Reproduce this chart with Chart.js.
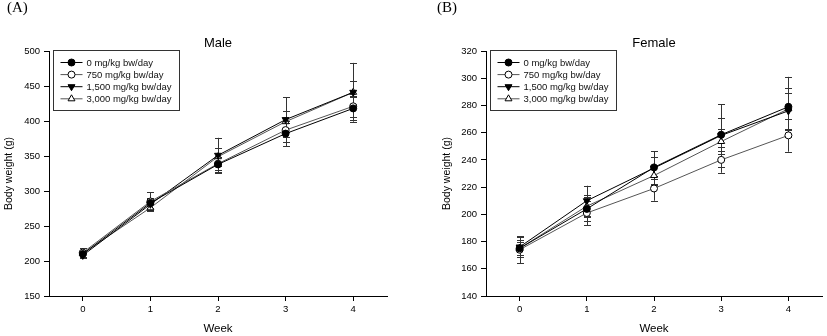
<!DOCTYPE html>
<html>
<head>
<meta charset="utf-8">
<script src="https://cdn.jsdelivr.net/npm/chart.js@4.4.1/dist/chart.umd.min.js"></script>
<style>
    html, body { margin: 0; padding: 0; background: #fff; }
    #wrap { position: relative; width: 827px; height: 336px; overflow: hidden; }
    .panel { position: absolute; top: 0; height: 336px; }
    #panelA { left: 0; width: 410px; }
    #panelB { left: 410px; width: 417px; }
    .tag {
        position: absolute; top: -1px;
        font: 15px "Times New Roman", "Liberation Serif", serif;
        color: #000; line-height: 16px;
    }
</style>
</head>
<body>
<div id="wrap">
    <div class="panel" id="panelA"><canvas id="maleChart" width="410" height="336"></canvas></div>
    <div class="panel" id="panelB"><canvas id="femaleChart" width="417" height="336"></canvas></div>
    <div class="tag" style="left:7px">(A)</div>
    <div class="tag" style="left:437px">(B)</div>
</div>

<script>
/**
 * Body weight curves, male and female groups
 */

const weeks = [0, 1, 2, 3, 4];
const doseLabels = ['0 mg/kg bw/day', '750 mg/kg bw/day', '1,500 mg/kg bw/day', '3,000 mg/kg bw/day'];

// male means / SD (g)
const male0 = [210, 283, 338, 382, 418];
const male750 = [212, 285, 339, 387, 421];
const male1500 = [208, 281, 351, 402, 441];
const male3000 = [211, 276, 349, 399, 441];
const maleSd0 = [5, 7, 11, 18, 17];
const maleSd750 = [6, 13, 9, 10, 15];
const maleSd1500 = [4, 8, 25, 32, 42];
const maleSd3000 = [5, 5, 13, 15, 16];

// female means / SD (g)
const female0 = [175, 204, 234.5, 258.5, 279];
const female750 = [174, 201, 219, 240, 258];
const female1500 = [176, 210, 234, 258, 276];
const female3000 = [175, 206, 228.5, 253.5, 277.5];
const femaleSd0 = [6, 9, 12, 12, 22];
const femaleSd750 = [10, 9, 9, 9.5, 12];
const femaleSd1500 = [7, 11, 8, 23, 13];
const femaleSd3000 = [5, 8, 7, 9, 15.5];

const maleTicks = [150, 200, 250, 300, 350, 400, 450, 500];
const femaleTicks = [140, 160, 180, 200, 220, 240, 260, 280, 300, 320];

const FONT = 'Arial, "Liberation Sans", sans-serif';

// marker / line look for each dose group
const groupStyles = [
    { line: '#000', fill: '#000', pointStyle: 'circle', radius: 3.5, rotation: 0 },
    { line: '#555', fill: '#fff', pointStyle: 'circle', radius: 3.5, rotation: 0 },
    { line: '#000', fill: '#000', pointStyle: 'triangle', radius: 4, rotation: 180 },
    { line: '#555', fill: '#fff', pointStyle: 'triangle', radius: 4, rotation: 0 }
];

function buildDatasets(means, sds) {
    return means.map((vals, g) => {
        const s = groupStyles[g];
        return {
            label: doseLabels[g],
            data: weeks.map((w, i) => ({ x: w, y: vals[i] })),
            errors: sds[g],
            borderColor: s.line,
            borderWidth: 1,
            pointStyle: s.pointStyle,
            pointRotation: s.rotation,
            pointRadius: s.radius,
            pointBackgroundColor: s.fill,
            pointBorderColor: '#000',
            pointBorderWidth: 1,
            tension: 0,
            fill: false
        };
    });
}

// vertical error bars with caps, drawn under the markers
const errorBarPlugin = {
    id: 'errorBars',
    beforeDatasetsDraw(chart) {
        const ctx = chart.ctx;
        const xs = chart.scales.x;
        const ys = chart.scales.y;
        ctx.save();
        ctx.strokeStyle = '#333';
        ctx.lineWidth = 1;
        chart.data.datasets.forEach(ds => {
            ds.data.forEach((p, i) => {
                const sd = ds.errors[i];
                const x = Math.round(xs.getPixelForValue(p.x)) + 0.5;
                const top = ys.getPixelForValue(p.y + sd);
                const bot = ys.getPixelForValue(p.y - sd);
                ctx.beginPath();
                ctx.moveTo(x, top);
                ctx.lineTo(x, bot);
                ctx.moveTo(x - 3.5, Math.round(top) + 0.5);
                ctx.lineTo(x + 3.5, Math.round(top) + 0.5);
                ctx.moveTo(x - 3.5, Math.round(bot) + 0.5);
                ctx.lineTo(x + 3.5, Math.round(bot) + 0.5);
                ctx.stroke();
            });
        });
        ctx.restore();
    }
};

// plot title above the area and boxed legend in its upper left corner
const panelDecorPlugin = {
    id: 'panelDecor',
    afterDraw(chart, args, opts) {
        const ctx = chart.ctx;
        const area = chart.chartArea;
        ctx.save();

        ctx.fillStyle = '#000';
        ctx.font = '13px ' + FONT;
        ctx.textAlign = 'center';
        ctx.textBaseline = 'middle';
        ctx.fillText(opts.title, (area.left + area.right) / 2, 43);

        const bx = Math.round(area.left + opts.boxOffset) + 0.5;
        const by = Math.round(area.top) - 0.5;
        const bw = 126, bh = 60;
        ctx.strokeStyle = '#333';
        ctx.lineWidth = 1;
        ctx.strokeRect(bx, by, bw, bh);

        ctx.font = '9.5px ' + FONT;
        ctx.textAlign = 'left';
        chart.data.datasets.forEach((ds, i) => {
            const y = by + 12 + i * 12.1;
            const s = groupStyles[i];
            ctx.strokeStyle = s.line;
            ctx.beginPath();
            ctx.moveTo(bx + 7, y);
            ctx.lineTo(bx + 29, y);
            ctx.stroke();
            ctx.fillStyle = s.fill;
            ctx.strokeStyle = '#000';
            Chart.helpers.drawPoint(ctx, {
                pointStyle: s.pointStyle, radius: s.radius, rotation: s.rotation, borderWidth: 1
            }, bx + 18, y);
            ctx.fillStyle = '#111';
            ctx.fillText(ds.label, bx + 33, y + 0.5);
        });
        ctx.restore();
    }
};

function makeChart(canvasId, datasets, cfg) {
    const ctx = document.getElementById(canvasId).getContext('2d');
    return new Chart(ctx, {
        type: 'line',
        data: { datasets: datasets },
        options: {
            responsive: false,
            animation: false,
            layout: { padding: { top: 51, right: cfg.padRight, bottom: 0, left: cfg.padLeft } },
            plugins: {
                legend: { display: false },
                tooltip: { enabled: false },
                panelDecor: { title: cfg.title, boxOffset: 4 }
            },
            scales: {
                x: {
                    type: 'linear',
                    min: -0.5,
                    max: 4.5,
                    afterBuildTicks: scale => { scale.ticks = weeks.map(v => ({ value: v })); },
                    afterFit: scale => { scale.height = 40; },
                    grid: { drawOnChartArea: false, drawTicks: true, tickLength: 5, color: '#000' },
                    border: { display: true, color: '#000', width: 1 },
                    ticks: { color: '#000', padding: 3, font: { family: FONT, size: 9.5 } },
                    title: {
                        display: true, text: 'Week', color: '#000',
                        font: { family: FONT, size: 11.5 }, padding: { top: 0, bottom: 0 }
                    }
                },
                y: {
                    min: cfg.yTicks[0],
                    max: cfg.yTicks[cfg.yTicks.length - 1],
                    afterBuildTicks: scale => { scale.ticks = cfg.yTicks.map(v => ({ value: v })); },
                    afterFit: scale => { scale.width = cfg.yWidth; },
                    grid: { drawOnChartArea: false, drawTicks: true, tickLength: 5, color: '#000' },
                    border: { display: true, color: '#000', width: 1 },
                    ticks: { color: '#000', padding: 4, font: { family: FONT, size: 9.5 } },
                    title: {
                        display: true, text: 'Body weight (g)', color: '#000',
                        font: { family: FONT, size: 10.5 }, padding: { top: 3, bottom: 0 }
                    }
                }
            }
        },
        plugins: [errorBarPlugin, panelDecorPlugin]
    });
}

makeChart('maleChart',
    buildDatasets([male0, male750, male1500, male3000], [maleSd0, maleSd750, maleSd1500, maleSd3000]),
    { title: 'Male', yTicks: maleTicks, padLeft: 0, padRight: 23, yWidth: 49 });

makeChart('femaleChart',
    buildDatasets([female0, female750, female1500, female3000], [femaleSd0, femaleSd750, femaleSd1500, femaleSd3000]),
    { title: 'Female', yTicks: femaleTicks, padLeft: 28, padRight: 2, yWidth: 48 });
</script>
</body>
</html>
